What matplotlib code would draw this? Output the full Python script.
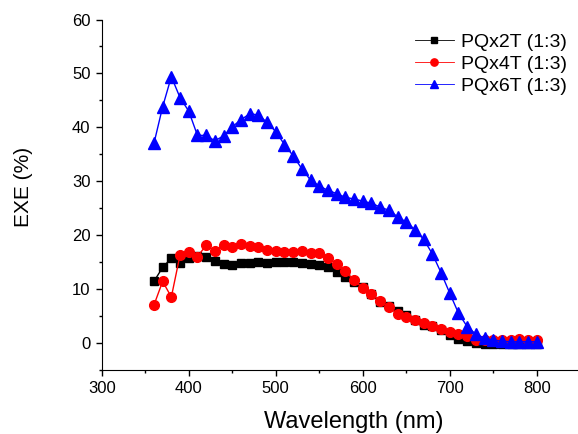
import matplotlib
matplotlib.use("Agg")
import matplotlib.pyplot as plt
from matplotlib.ticker import MultipleLocator

plt.rcParams['font.family'] = ['Liberation Sans', 'DejaVu Sans']

wavelength = list(range(360, 801, 10))

pqx2t = [11.4, 14.0, 15.7, 14.8, 15.7, 16.2, 15.9, 15.1, 14.6, 14.4,
         14.8, 14.9, 15.0, 14.9, 15.0, 15.0, 15.0, 14.9, 14.6, 14.5,
         14.0, 13.2, 12.2, 11.3, 10.3, 9.0, 7.6, 6.8, 5.9, 5.1,
         4.2, 3.3, 3.1, 2.4, 1.4, 0.8, 0.3, -0.1, -0.2, -0.2,
         -0.3, -0.3, -0.3, -0.3, -0.3]

pqx4t = [7.0, 11.4, 8.5, 16.3, 16.8, 16.0, 18.1, 17.1, 18.1, 17.7,
         18.3, 17.9, 17.7, 17.3, 17.0, 16.9, 16.9, 17.0, 16.7, 16.6,
         15.8, 14.7, 13.3, 11.6, 10.2, 9.0, 7.8, 6.6, 5.4, 4.8,
         4.2, 3.7, 3.2, 2.6, 2.0, 1.7, 1.3, 0.6, 0.6, 0.6,
         0.6, 0.6, 0.7, 0.6, 0.6]

pqx6t = [37.0, 43.8, 49.4, 45.5, 43.0, 38.5, 38.5, 37.5, 38.4, 40.1,
         41.4, 42.5, 42.3, 40.9, 39.2, 36.8, 34.7, 32.3, 30.2, 29.1,
         28.3, 27.7, 27.0, 26.7, 26.3, 25.9, 25.2, 24.6, 23.4, 22.4,
         21.0, 19.2, 16.5, 13.0, 9.2, 5.5, 3.0, 1.6, 0.9, 0.5,
         0.3, 0.2, 0.2, 0.2, 0.2]

labels = ["PQx2T (1:3)", "PQx4T (1:3)", "PQx6T (1:3)"]

fig = plt.figure(figsize=(5.78, 4.34), dpi=100)
ax = fig.add_axes([0.176, 0.148, 0.828, 0.807])

ax.plot(wavelength, pqx2t, color='black', marker='s', markersize=6, linewidth=1, label=labels[0])
ax.plot(wavelength, pqx4t, color='red', marker='o', markersize=7, linewidth=1, label=labels[1])
ax.plot(wavelength, pqx6t, color='blue', marker='^', markersize=8, linewidth=1, label=labels[2])

ax.set_xlim(300, 850)
ax.set_ylim(-5, 60)
ax.xaxis.set_major_locator(MultipleLocator(100))
ax.xaxis.set_minor_locator(MultipleLocator(50))
ax.yaxis.set_major_locator(MultipleLocator(10))
ax.yaxis.set_minor_locator(MultipleLocator(5))
ax.spines['top'].set_visible(False)
ax.spines['right'].set_visible(False)
ax.tick_params(which='major', direction='out', length=4.5, width=1, labelsize=12)
ax.tick_params(which='minor', direction='out', length=2.5, width=1)

ax.set_xlabel("Wavelength (nm)", fontsize=17)
ax.set_ylabel("EXE (%)", fontsize=15)
ax.xaxis.set_label_coords(0.527, -0.119)
ax.yaxis.set_label_coords(-0.1435, 0.521)

leg = ax.legend(loc='upper right', bbox_to_anchor=(1.004, 0.955), bbox_transform=fig.transFigure,
                frameon=False, fontsize=14, handlelength=2.0, handletextpad=0.35,
                labelspacing=0.22, borderpad=0.2, markerscale=0.75)
for h in leg.legend_handles:
    h.set_linewidth(0.6)

fig.savefig("out.png", dpi=100)
